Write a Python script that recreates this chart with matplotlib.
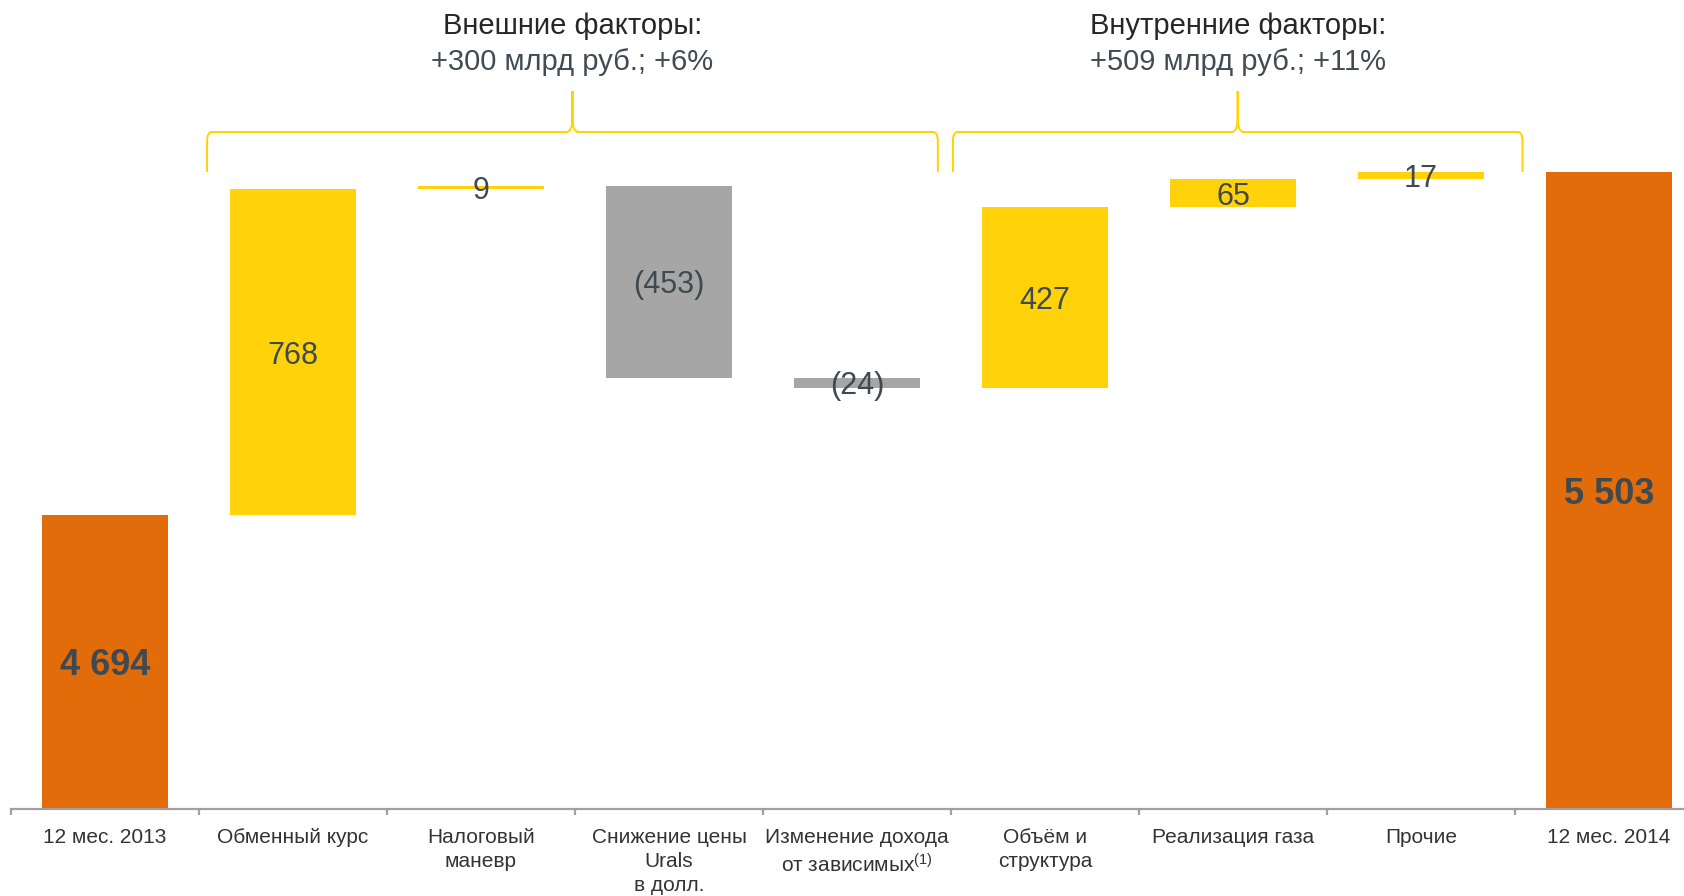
import matplotlib
matplotlib.use('Agg')
import matplotlib.pyplot as plt
from matplotlib.path import Path
from matplotlib.patches import PathPatch
from matplotlib.ticker import FixedLocator

# ---------------- data ----------------
categories = ['12 мес. 2013', 'Обменный курс', 'Налоговый\nманевр',
              'Снижение цены\nUrals\nв долл.', 'Изменение дохода\nот зависимых$^{(1)}$',
              'Объём и\nструктура', 'Реализация газа', 'Прочие', '12 мес. 2014']
start_total = 4694
changes = [768, 9, -453, -24, 427, 65, 17]
end_total = 5503
value_labels = ['4 694', '768', '9', '(453)', '(24)', '427', '65', '17', '5 503']
group_titles = ['Внешние факторы:', 'Внутренние факторы:']
group_subtitles = ['+300 млрд руб.; +6%', '+509 млрд руб.; +11%']
group_spans = [(1, 4), (5, 7)]
axis_floor = 4000

# ---------------- style ----------------
ORANGE = '#E36C0A'
YELLOW = '#FFD20A'
GRAY = '#A6A6A6'
BRACE = '#FFD200'
VAL_COLOR = '#3F4950'
AXIS_COLOR = '#A0A0A0'

plt.rcParams['font.family'] = ['Liberation Sans', 'DejaVu Sans']
plt.rcParams['mathtext.fontset'] = 'custom'
plt.rcParams['mathtext.rm'] = 'Liberation Sans'
plt.rcParams['mathtext.it'] = 'Liberation Sans:italic'
plt.rcParams['mathtext.bf'] = 'Liberation Sans:bold'

W, H = 1684, 896
fig = plt.figure(figsize=(W / 100, H / 100), dpi=100)
px_per_unit = 0.4238
base_px = 87
ax = fig.add_axes([11 / W, base_px / H, 1692 / W, (H - base_px) / H])
ax.set_xlim(-0.5, len(categories) - 0.5)
ax.set_ylim(axis_floor, axis_floor + (H - base_px) / px_per_unit)

# waterfall geometry
bottoms, heights, colors = [], [], []
bottoms.append(axis_floor); heights.append(start_total - axis_floor); colors.append(ORANGE)
cum = start_total
for ch in changes:
    if ch >= 0:
        bottoms.append(cum); colors.append(YELLOW)
    else:
        bottoms.append(cum + ch); colors.append(GRAY)
    heights.append(abs(ch))
    cum += ch
bottoms.append(axis_floor); heights.append(end_total - axis_floor); colors.append(ORANGE)

x = list(range(len(categories)))
ax.bar(x, heights, bottom=bottoms, width=0.667, color=colors, linewidth=0, zorder=2)

for i, (b, h, lab) in enumerate(zip(bottoms, heights, value_labels)):
    is_total = i in (0, len(categories) - 1)
    ax.text(i, b + h / 2, lab, ha='center', va='center_baseline',
            fontsize=26 if is_total else 22,
            fontweight='bold' if is_total else 'normal',
            color=VAL_COLOR, zorder=3)

# axes styling
for s in ['left', 'top', 'right']:
    ax.spines[s].set_visible(False)
ax.spines['bottom'].set_color(AXIS_COLOR)
ax.spines['bottom'].set_linewidth(1.6)
ax.set_yticks([])
ax.set_xticks(x)
ax.set_xticklabels(categories, fontsize=15, color='#333333', linespacing=1.32)
ax.tick_params(axis='x', which='major', length=0, pad=14)
ax.xaxis.set_minor_locator(FixedLocator([i - 0.5 for i in range(len(categories) + 1)]))
ax.tick_params(axis='x', which='minor', length=4.5, width=1.6, color=AXIS_COLOR, direction='out')

# braces
ux = 1 / 188.0          # category units per pixel
uy = 1 / px_per_unit    # value units per pixel
y_end = axis_floor + (809 - 172) * uy
y_line = axis_floor + (809 - 132) * uy
y_tip = axis_floor + (809 - 91) * uy

def draw_brace(x0, x1, xc):
    erx, ery = 5 * ux, 9 * uy
    crx, cry = 6 * ux, 14 * uy
    verts = [(x0, y_end), (x0, y_line - ery), (x0, y_line), (x0 + erx, y_line),
             (xc - crx, y_line), (xc, y_line), (xc, y_line + cry), (xc, y_tip),
             (xc, y_line + cry), (xc, y_line), (xc + crx, y_line),
             (x1 - erx, y_line), (x1, y_line), (x1, y_line - ery), (x1, y_end)]
    codes = [Path.MOVETO, Path.LINETO, Path.CURVE3, Path.CURVE3,
             Path.LINETO, Path.CURVE3, Path.CURVE3, Path.LINETO,
             Path.LINETO, Path.CURVE3, Path.CURVE3,
             Path.LINETO, Path.CURVE3, Path.CURVE3, Path.LINETO]
    ax.add_patch(PathPatch(Path(verts, codes), facecolor='none', edgecolor=BRACE,
                           lw=1.4, clip_on=False, zorder=2))

brace_pads = [(0.457, 0.43), (0.49, 0.54)]
for (a, b), (pl, pr), t1, t2 in zip(group_spans, brace_pads, group_titles, group_subtitles):
    x0, x1 = a - pl, b + pr
    xc = (x0 + x1) / 2
    draw_brace(x0, x1, xc)
    ax.text(xc, axis_floor + (809 - 26) * uy, t1, ha='center', va='center',
            fontsize=21, color='#262626', clip_on=False)
    ax.text(xc, axis_floor + (809 - 62) * uy, t2, ha='center', va='center',
            fontsize=21, color='#414B53', clip_on=False)

fig.savefig('out.png', dpi=100)
